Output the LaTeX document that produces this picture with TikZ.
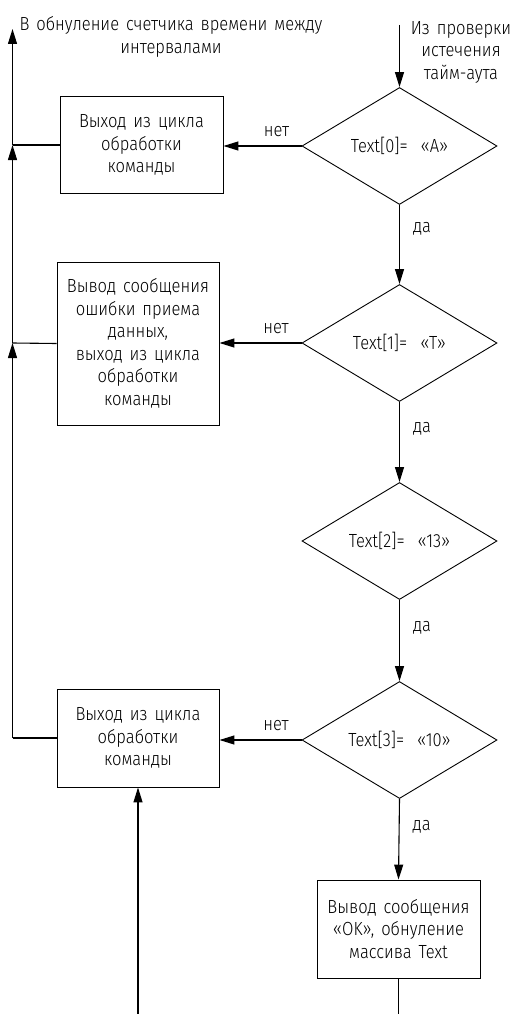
\documentclass[tikz,border=0pt]{standalone}
\usepackage{fontspec}
\setmainfont{Fira Sans Light}[FakeStretch=0.87,WordSpace=1.5]
\usetikzlibrary{arrows.meta,shapes.geometric}

\newcommand{\eqgap}{\hspace{13pt}}

\begin{document}
\begin{tikzpicture}[x=1pt,y=-1pt,
  every node/.style={inner sep=0pt},
  txt/.style={font=\fontsize{19}{22.5}\selectfont, align=center},
  procbox/.style={draw, rectangle, line width=0.9pt, txt, minimum width=163pt},
  decision/.style={draw, diamond, line width=0.9pt, txt, aspect=1.667,
    minimum width=195pt, minimum height=117pt},
  flow/.style={line width=1.1pt},
  arr/.style={flow, -{Triangle[length=15pt,width=9pt]}},
  lbl/.style={font=\fontsize{19}{22.5}\selectfont}
]
\useasboundingbox (0,0) rectangle (513,1014);

% decisions
\node[decision] (d0) at (399.5,146) {Text[0]=\eqgap«A»};
\node[decision] (d1) at (399.5,343) {Text[1]=\eqgap«T»};
\node[decision] (d2) at (399.5,541) {Text[2]=\eqgap«13»};
\node[decision] (d3) at (399.5,740) {Text[3]=\eqgap«10»};

% process boxes
\node[procbox, minimum height=97pt] (b0) at (141.5,145) {Выход из цикла\\обработки\\команды};
\node[procbox, minimum width=162pt, minimum height=163pt] (b1) at (138,343.5)
  {Вывод сообщения\\ошибки приема\\данных,\\выход из цикла\\обработки\\команды};
\node[procbox, minimum width=162pt, minimum height=98pt] (b3) at (138,738) {Выход из цикла\\обработки\\команды};
\node[procbox, minimum height=98pt] (b4) at (398.5,929) {Вывод сообщения\\«OK», обнуление\\массива Text};

% free texts
\node[txt] (outtxt) at (171,37) {В обнуление счетчика времени между\\интервалами};
\node[txt] (intxt) at (461,52) {Из проверки\\истечения\\тайм-аута};

% loose ends
\coordinate (src) at (399.5,25);
\coordinate (top) at (12.5,29);
\coordinate (j0) at (12.5,145);
\coordinate (j1) at (12.5,343);
\coordinate (j3) at (12.5,738);
\coordinate (in3) at (138,1014);
\coordinate (out4) at (398.5,1014);

% main flow
\draw[arr] (src) -- (d0.north);
\draw[arr] (d0.south) -- node[lbl, pos=0.3, anchor=west, xshift=13pt] {да} (d1.north);
\draw[arr] (d1.south) -- node[lbl, pos=0.33, anchor=west, xshift=13pt] {да} (d2.north);
\draw[arr] (d2.south) -- node[lbl, pos=0.34, anchor=west, xshift=13pt] {да} (d3.north);
\draw[arr] (d3.south) -- node[lbl, pos=0.34, anchor=west, xshift=13pt] {да} (b4.north);
\draw[flow] (b4.south) -- (out4);

% "no" branches
\draw[arr] (d0.west) -- node[lbl, pos=0.32, above=9pt] {нет} (d0.west -| b0.east);
\draw[arr] (d1.west) -- node[lbl, pos=0.31, above=9pt] {нет} (d1.west -| b1.east);
\draw[arr] (d3.west) -- node[lbl, pos=0.31, above=9pt] {нет} (d3.west -| b3.east);

% exit spine on the left
\draw[flow] (b0.west) -- (j0);
\draw[flow] (b1.west) -- (j1);
\draw[flow] (b3.west) -- (j3);
\draw[arr] (j3) -- (j1);
\draw[arr] (j1) -- (j0);
\draw[arr] (j0) -- (top);

% entry from below
\draw[arr] (in3) -- (b3.south);
\end{tikzpicture}
\end{document}
